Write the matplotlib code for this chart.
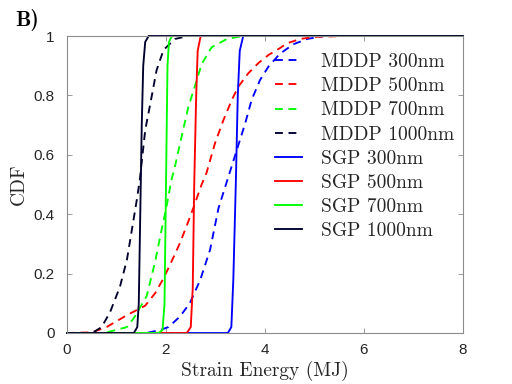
import matplotlib
matplotlib.use("Agg")
import matplotlib.pyplot as plt

# ---- data ----
mddp300_x = [0, 1.6, 1.88, 2.05, 2.28, 2.48, 2.69, 2.89, 3.06, 3.23, 3.43, 3.60, 3.73, 3.90, 4.07, 4.30, 4.57, 4.85, 5.2, 8]
mddp300_y = [0, 0, 0.01, 0.02, 0.055, 0.10, 0.178, 0.28, 0.42, 0.51, 0.616, 0.706, 0.785, 0.852, 0.897, 0.940, 0.972, 0.99, 1.0, 1.0]

mddp500_x = [0, 0.5, 0.80, 1.21, 1.58, 1.78, 1.95, 2.11, 2.28, 2.45, 2.55, 2.72, 2.82, 2.99, 3.16, 3.33, 3.46, 3.66, 3.86, 4.07, 4.30, 4.44, 4.71, 5.0, 5.6, 8]
mddp500_y = [0, 0.002, 0.02, 0.06, 0.092, 0.134, 0.184, 0.24, 0.302, 0.375, 0.42, 0.50, 0.540, 0.639, 0.717, 0.785, 0.829, 0.874, 0.908, 0.936, 0.959, 0.975, 0.99, 0.997, 1.0, 1.0]

mddp700_x = [0, 0.7, 0.87, 1.21, 1.37, 1.61, 1.78, 1.91, 2.01, 2.11, 2.18, 2.32, 2.45, 2.59, 2.72, 2.92, 3.23, 3.56, 8]
mddp700_y = [0, 0, 0.005, 0.02, 0.055, 0.125, 0.24, 0.347, 0.425, 0.515, 0.56, 0.665, 0.76, 0.835, 0.905, 0.962, 0.99, 1.0, 1.0]

mddp1000_x = [0, 0.45, 0.53, 0.70, 0.87, 1.07, 1.21, 1.31, 1.41, 1.47, 1.58, 1.71, 1.81, 1.95, 2.18, 2.45, 8]
mddp1000_y = [0, 0, 0.002, 0.02, 0.07, 0.156, 0.246, 0.347, 0.448, 0.515, 0.683, 0.796, 0.885, 0.953, 0.99, 1.0, 1.0]

sgp300_x = [0, 3.25, 3.32, 3.36, 3.41, 3.45, 3.49, 3.56, 8]
sgp300_y = [0, 0, 0.02, 0.18, 0.5, 0.8, 0.95, 1.0, 1.0]

sgp500_x = [0, 2.42, 2.50, 2.54, 2.57, 2.61, 2.64, 2.70, 8]
sgp500_y = [0, 0, 0.02, 0.15, 0.5, 0.8, 0.95, 1.0, 1.0]

sgp700_x = [0, 1.85, 1.93, 1.97, 2.00, 2.03, 2.06, 2.12, 8]
sgp700_y = [0, 0, 0.01, 0.1, 0.5, 0.9, 0.98, 1.0, 1.0]

sgp1000_x = [0, 1.35, 1.42, 1.45, 1.48, 1.51, 1.54, 1.58, 1.65, 8]
sgp1000_y = [0, 0, 0.02, 0.1, 0.4, 0.7, 0.9, 0.98, 1.0, 1.0]

labels = ["MDDP 300nm", "MDDP 500nm", "MDDP 700nm", "MDDP 1000nm",
          "SGP 300nm", "SGP 500nm", "SGP 700nm", "SGP 1000nm"]
xticks = [0, 2, 4, 6, 8]
yticks = [0, 0.2, 0.4, 0.6, 0.8, 1]
ytick_labels = ["0", "0.2", "0.4", "0.6", "0.8", "1"]

# ---- style ----
c_blue, c_red, c_green, c_navy = "#0000ff", "#ff0000", "#00ff00", "#00002e"
serif = ["cmr10", "DejaVu Serif"]
sans = ["Liberation Sans", "DejaVu Sans"]
lw = 1.35
dash = (4.2, 3.0)

fig = plt.figure(figsize=(5.12, 3.84), dpi=100)
ax = fig.add_axes([67/512, 51/384, 396/512, 297/384])

series = [
    (mddp300_x, mddp300_y, c_blue, True),
    (mddp500_x, mddp500_y, c_red, True),
    (mddp700_x, mddp700_y, c_green, True),
    (mddp1000_x, mddp1000_y, c_navy, True),
    (sgp300_x, sgp300_y, c_blue, False),
    (sgp500_x, sgp500_y, c_red, False),
    (sgp700_x, sgp700_y, c_green, False),
    (sgp1000_x, sgp1000_y, c_navy, False),
]
for (xs, ys, c, dashed), lab in zip(series, labels):
    if dashed:
        ax.plot(xs, ys, color=c, lw=lw, linestyle=(0, dash), label=lab, clip_on=False)
    else:
        ax.plot(xs, ys, color=c, lw=lw, linestyle="-", label=lab, clip_on=False)

ax.set_xlim(0, 8)
ax.set_ylim(0, 1)
ax.set_xticks(xticks)
ax.set_xticklabels([str(t) for t in xticks], fontfamily=sans, fontsize=11)
ax.set_yticks(yticks)
ax.set_yticklabels(ytick_labels, fontfamily=sans, fontsize=11)
ax.tick_params(direction="in", length=3.5, width=0.6, color="#8c8c8c",
               top=True, right=True, labelcolor="#262626")
ax.tick_params(axis="x", pad=7)
ax.tick_params(axis="y", pad=9)
for s in ax.spines.values():
    s.set_color("#8c8c8c")
    s.set_linewidth(0.8)

ax.set_xlabel("Strain Energy (MJ)", fontfamily=serif, fontsize=14, color="#262626", labelpad=3)
ax.set_ylabel("CDF", fontfamily=serif, fontsize=14, color="#262626", labelpad=4)

leg = ax.legend(loc="upper left", bbox_to_anchor=(0.525, 0.942), frameon=False,
                prop={"family": serif, "size": 14}, handlelength=1.39,
                handletextpad=0.98, labelspacing=0.32, borderaxespad=0, borderpad=0)
for t in leg.get_texts():
    t.set_color("#262626")

fig.text(15/512, 1 - 20/384, "B)", fontfamily=["cmb10", "DejaVu Serif"], fontsize=15.5,
         fontweight="bold", va="center", ha="left")

fig.savefig("out.png", dpi=100)
